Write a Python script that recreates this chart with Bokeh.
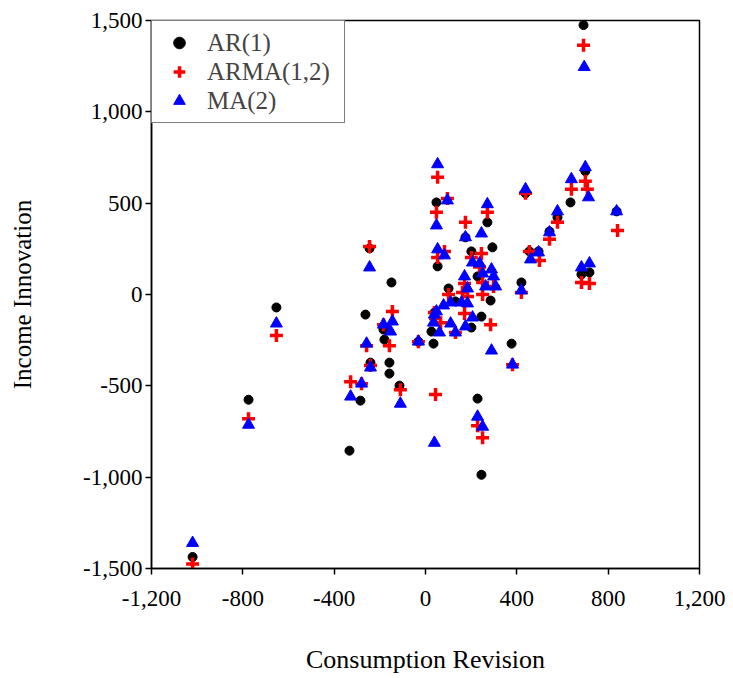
from bokeh.plotting import figure
from bokeh.models import ColumnDataSource, FixedTicker, NumeralTickFormatter, Range1d, Legend, LegendItem
from bokeh.embed import file_html
from bokeh.resources import INLINE

# AR(1)
ar_x = [692, -1020, -775, -653, -245, -149, -263, -184, -180, -241, -158, -158, -114, -285, -333,
        -31, 39, 26, 35, 377, 228, 245, 48, 53, 175, 271, 293, 201, 228, 285, 101, 131, 245, 201,
        420, 438, 578, 543, 455, 495, 635, 700, 837, 683, 718]
ar_y = [1475, -1437, -576, -71, 252, 66, -110, -192, -247, -373, -373, -433, -499, -581, -855,
        -258, -99, -203, -269, -269, -570, -987, 504, 154, 313, 395, 258, 236, 99, -33, 33, -38, -121, -181,
        66, 554, 422, 345, 236, 236, 504, 675, 455, 110, 121]

# ARMA(1,2)
arma_x = [692, -1020, -775, -653, -245, -145, -258, -184, -158, -241, -110, -328, -280, -31, 39, 44,
          228, 250, 381, 53, 48, 96, 175, 271, 245, 201, 53, 83, 250, 298, 250, 171, 184, 101, 171,
          285, 44, 66, 131, 420, 438, 578, 543, 455, 499, 639, 700, 709, 841, 683, 718, 162, 237]
arma_y = [1365, -1475, -680, -225, 263, -93, -280, -165, -280, -389, -521, -477, -488, -258, -99, -548,
          -718, -784, -384, 642, 450, 526, 395, 450, 225, 203, 203, 236, 66, 44, 0, 60, -11, 0, -104,
          -165, -132, -154, -208, 11, 554, 395, 302, 236, 186, 576, 620, 576, 351, 66, 60, 11, 150]

# MA(2)
ma_x = [695, -1020, -775, -653, -245, -145, -258, -184, -153, -241, -110, -328, -280, -31, 39, 39,
        289, 381, 228, 250, 53, 96, 48, 175, 271, 245, 53, 83, 206, 237, 250, 289, 298, 307, 263,
        171, 184, 110, 158, 184, 206, 175, 79, 48, 35, 61, 110, 131, 420, 438, 578, 543, 495, 460,
        639, 700, 714, 837, 683, 718]
ma_y = [1245, -1360, -713, -159, 148, -148, -269, -165, -203, -400, -598, -559, -488, -258, -110, -812,
        -307, -384, -669, -724, 713, 515, 378, 313, 494, 334, 247, 214, 175, 170, 115, 137, 99, 44, 44,
        99, 33, -44, -44, -49, -126, -175, -60, -93, -154, -208, -159, -208, 22, 576, 455, 340, 230, 192,
        631, 697, 532, 455, 148, 170]

x_ticks = [-1200, -800, -400, 0, 400, 800, 1200]
y_ticks = [-1500, -1000, -500, 0, 500, 1000, 1500]
series_names = ["AR(1)", "ARMA(1,2)", "MA(2)"]

FONT = "Liberation Serif"

p = figure(width=731, height=676, output_backend="svg", toolbar_location=None,
           x_range=Range1d(-1200, 1200), y_range=Range1d(-1500, 1500),
           min_border_left=151, min_border_right=32, min_border_top=20, min_border_bottom=106)
p.xgrid.visible = False
p.ygrid.visible = False
p.background_fill_color = "white"
p.border_fill_color = "white"
p.outline_line_color = "black"
p.outline_line_width = 1.5

src_ar = ColumnDataSource(dict(x=ar_x, y=ar_y))
src_arma = ColumnDataSource(dict(x=arma_x, y=arma_y))
src_ma = ColumnDataSource(dict(x=ma_x, y=ma_y))

r1 = p.scatter("x", "y", source=src_ar, marker="circle", size=9, fill_color="black", line_color="black")
r2 = p.scatter("x", "y", source=src_arma, marker="cross", size=13, line_color="red", line_width=3.5)
r3 = p.scatter("x", "y", source=src_ma, marker="triangle", size=12, fill_color="blue", line_color="blue")

for ax in (p.xaxis[0], p.yaxis[0]):
    ax.major_tick_out = 6
    ax.major_tick_in = 0
    ax.minor_tick_out = 0
    ax.minor_tick_in = 0
    ax.axis_line_color = "black"
    ax.axis_line_width = 1.5
    ax.major_tick_line_width = 1.5
    ax.major_label_text_font = FONT
    ax.major_label_text_font_size = "23px"
    ax.major_label_text_color = "black"
    ax.axis_label_text_font = FONT
    ax.axis_label_text_font_style = "normal"
    ax.axis_label_text_color = "black"
    ax.formatter = NumeralTickFormatter(format="0,0")

p.xaxis[0].ticker = FixedTicker(ticks=x_ticks)
p.yaxis[0].ticker = FixedTicker(ticks=y_ticks)
p.xaxis[0].axis_label = "Consumption Revision"
p.yaxis[0].axis_label = "Income Innovation"
p.xaxis[0].axis_label_text_font_size = "26px"
p.yaxis[0].axis_label_text_font_size = "25px"
p.xaxis[0].major_label_standoff = 16
p.xaxis[0].axis_label_standoff = 36
p.yaxis[0].major_label_standoff = 3
p.yaxis[0].axis_label_standoff = 44

legend = Legend(items=[LegendItem(label=series_names[0], renderers=[r1]),
                       LegendItem(label=series_names[1], renderers=[r2]),
                       LegendItem(label=series_names[2], renderers=[r3])],
                location="top_left", margin=0, padding=7, spacing=0,
                glyph_width=40, glyph_height=29, label_height=29, label_standoff=8,
                label_width=130,
                label_text_font=FONT, label_text_font_size="25px",
                border_line_color="black", border_line_width=1.5,
                background_fill_alpha=1.0)
p.add_layout(legend)

open("out.html", "w").write(file_html(p, INLINE))
